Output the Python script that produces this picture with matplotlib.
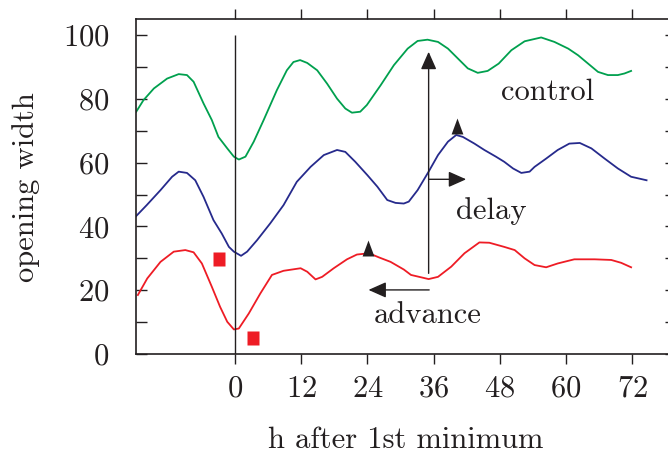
import numpy as np
import matplotlib
matplotlib.use("Agg")
import matplotlib.pyplot as plt

plt.rcParams['font.family'] = ['cmr10', 'DejaVu Serif']
plt.rcParams['mathtext.fontset'] = 'cm'
plt.rcParams['axes.formatter.use_mathtext'] = True

# control (green)
ctrl_h = [-17.9, -16.6, -14.7, -12.3, -10.2, -8.7, -7.5, -5.7, -4.2, -3.0, -1.4, -0.2, 0.7,
          1.9, 3.4, 5.2, 7.6, 9.4, 10.6, 11.8, 13.1, 14.9, 16.7, 18.5, 20.0, 21.2, 22.7, 23.9,
          26.4, 28.8, 31.3, 33.1, 34.9, 36.8, 38.6, 40.4, 42.2, 44.0, 45.8, 47.8, 50.1, 52.5,
          55.5, 57.9, 60.4, 62.2, 64.0, 65.8, 67.6, 69.4, 70.6, 71.8]
ctrl_v = [76.0, 79.6, 83.3, 86.4, 87.8, 87.5, 85.4, 78.6, 73.4, 68.1, 64.5, 61.9, 61.0,
          61.9, 66.6, 73.4, 82.8, 89.0, 91.6, 92.2, 91.3, 89.0, 84.8, 80.1, 77.0, 75.7, 76.0, 78.1,
          84.3, 90.6, 95.8, 98.2, 98.6, 97.9, 95.8, 92.7, 89.6, 88.2, 88.8, 91.1, 95.3, 98.1,
          99.3, 97.9, 95.8, 93.7, 91.1, 88.5, 87.5, 87.5, 88.0, 88.8]

# delay (blue)
delay_h = [-18.0, -16.0, -13.5, -11.4, -10.2, -8.7, -7.2, -5.7, -3.9, -2.4, -1.1, -0.2, 1.1,
           2.2, 4.0, 6.4, 8.8, 11.2, 13.7, 16.1, 18.5, 20.0, 21.8, 24.0, 25.8, 27.6, 29.1, 30.6,
           31.5, 33.1, 35.1, 36.8, 38.6, 40.1, 41.3, 43.4, 45.2, 47.3, 48.8, 50.4, 51.9, 53.4,
           54.3, 56.4, 58.5, 60.6, 62.5, 64.6, 67.0, 69.4, 71.8, 74.6]
delay_v = [43.1, 46.7, 51.4, 55.6, 57.2, 56.8, 54.5, 49.3, 42.0, 37.8, 33.6, 32.1, 30.8,
           32.1, 35.7, 41.0, 46.7, 54.0, 58.7, 62.4, 64.0, 63.4, 60.3, 56.1, 52.5, 48.3, 47.4, 47.2,
           47.8, 51.4, 57.2, 62.4, 66.6, 68.7, 68.1, 66.0, 64.0, 61.9, 60.3, 58.2, 56.8, 57.2,
           58.7, 61.3, 64.0, 66.0, 66.2, 64.5, 61.3, 58.2, 55.6, 54.5]

# advance (red)
adv_h = [-17.6, -15.9, -13.5, -11.1, -9.0, -7.5, -6.0, -4.2, -2.7, -1.4, -0.2, 0.7, 2.5, 4.6,
         6.7, 8.8, 11.9, 13.1, 14.6, 15.8, 17.9, 20.3, 22.1, 24.3, 26.1, 28.2, 30.6, 31.9, 35.1,
         36.8, 39.2, 41.6, 44.3, 46.1, 48.8, 50.7, 52.5, 54.3, 56.4, 58.5, 61.5, 65.2, 68.2,
         70.0, 71.8]
adv_v = [18.5, 23.7, 28.9, 32.1, 32.6, 31.9, 28.4, 21.1, 14.8, 10.1, 7.7, 8.0, 12.7, 19.0,
         24.8, 26.1, 26.9, 25.8, 23.4, 24.2, 26.9, 29.7, 31.2, 31.6, 30.3, 28.9, 26.5, 24.8, 23.5,
         24.2, 27.4, 31.6, 35.0, 34.9, 33.6, 32.6, 30.0, 27.9, 27.2, 28.4, 29.7, 29.7, 29.5,
         28.6, 27.2]

# light pulses (red squares) and shifted peaks (black triangles)
pulse_h = [-2.96, 3.2]
pulse_v = [29.9, 4.9]
peak_h = [24.1, 40.2]
peak_v = [33.1, 71.6]

# arrows: (start, end)
arrow_up = ((35.1, 25.3), (35.1, 94.8))
arrow_delay = ((35.1, 54.8), (41.9, 54.8))
arrow_adv = ((35.2, 20.1), (24.2, 20.1))

# labels: (text, h, baseline value)
labels = [('control', 56.7, 79.8), ('delay', 46.4, 42.2), ('advance', 35.0, 9.8)]

xticks = [0, 12, 24, 36, 48, 60, 72]
yticks = [0, 20, 40, 60, 80, 100]
yminor = [10, 30, 50, 70, 90]

green = '#00a04e'
blue = '#262a8c'
red = '#ee1c25'
ink = '#231f20'

fig = plt.figure(figsize=(6.68, 4.58), dpi=100)
ax = fig.add_axes([0.2031, 0.2271, 0.8094, 0.7308])

ax.plot(ctrl_h, ctrl_v, color=green, lw=1.3, solid_joinstyle='round')
ax.plot(delay_h, delay_v, color=blue, lw=1.3, solid_joinstyle='round')
ax.plot(adv_h, adv_v, color=red, lw=1.3, solid_joinstyle='round')
ax.vlines(0, 0, 100, color=ink, lw=1.0)

sq = [(-0.4, -0.5), (0.4, -0.5), (0.4, 0.5), (-0.4, 0.5), (-0.4, -0.5)]
tri = [(-0.37, -0.5), (0.37, -0.5), (0.0, 0.5), (-0.37, -0.5)]
ax.plot(pulse_h, pulse_v, ls='none', marker=sq, markersize=10, color=red, mec='none')
ax.plot(peak_h, peak_v, ls='none', marker=tri, markersize=11.5, color=ink, mec='none')

for (x0, y0), (x1, y1) in [arrow_up, arrow_delay, arrow_adv]:
    ax.annotate('', xy=(x1, y1), xytext=(x0, y0),
                arrowprops=dict(arrowstyle='-|>,head_length=0.9,head_width=0.4',
                                mutation_scale=12, color=ink, lw=1.0,
                                shrinkA=0, shrinkB=0))

for txt, h, v in labels:
    ax.text(h, v, txt, fontsize=22, color=ink, ha='center', va='baseline')

ax.set_xlim(-18, 80)
ax.set_ylim(0, 105)
ax.set_xticks(xticks)
ax.set_yticks(yticks)
ax.set_yticks(yminor, minor=True)
ax.tick_params(axis='x', direction='out', top=True, length=7.2, width=1.0,
               labelsize=22, pad=8, colors=ink)
ax.tick_params(axis='y', which='both', direction='in', right=True, length=7.9, width=1.0,
               labelsize=22, pad=19, colors=ink)
for s in ax.spines.values():
    s.set_linewidth(1.2)
    s.set_color(ink)

ax.set_xlabel('h after 1st minimum', fontsize=22, color=ink, labelpad=17)
ax.set_ylabel('opening width', fontsize=22, color=ink, labelpad=16)

fig.savefig('out.png', dpi=100)
